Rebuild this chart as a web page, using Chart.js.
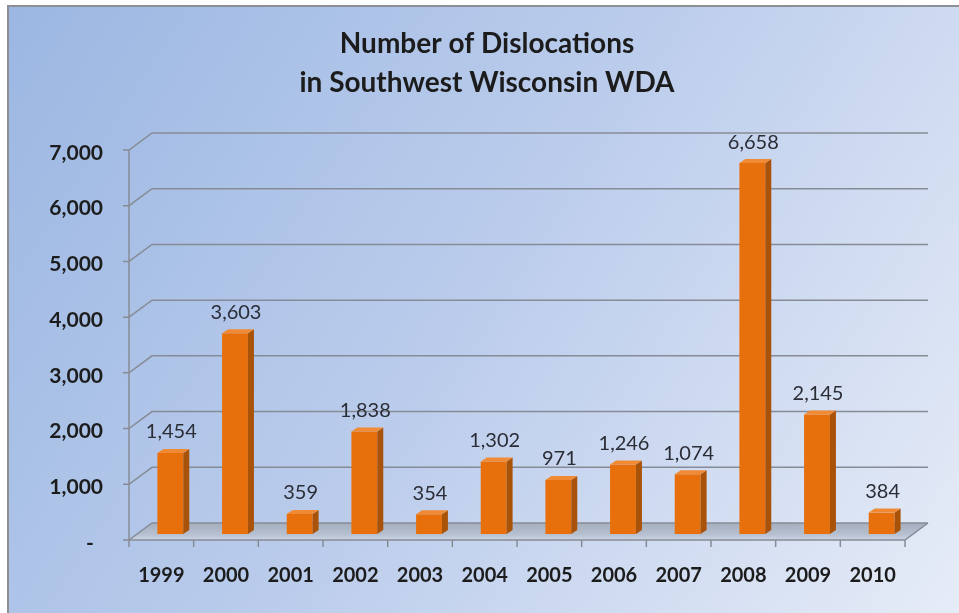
<!DOCTYPE html>
<html lang="en">
<head>
  <meta charset="UTF-8">
  <title>Number of Dislocations</title>
  <script src="https://cdn.jsdelivr.net/npm/chart.js"></script>
  <style>
    html, body { margin: 0; padding: 0; background: #fff; }
    #wrap { width: 959px; height: 613px; }
  </style>
</head>
<body>
<div id="wrap"><canvas id="myChart"></canvas></div>

<script>
// data
const titleLines = ['Number of Dislocations', 'in Southwest Wisconsin WDA'];
const years = ['1999', '2000', '2001', '2002', '2003', '2004', '2005', '2006', '2007', '2008', '2009', '2010'];
const dislocations = [1454, 3603, 359, 1838, 354, 1302, 971, 1246, 1074, 6658, 2145, 384];
const yMax = 7000;
const yStep = 1000;

// 3d look
const DEPTH_X = 23, DEPTH_Y = 17;   // back wall offset
const BAR_X = 9, BAR_Y = -6;        // bars sit mid depth
const SIDE_X = 6, SIDE_Y = 4;       // bar side / top face

const fmt = v => v.toLocaleString('en-US');

const backdrop = {
  id: 'backdrop',
  beforeDraw(chart) {
    const { ctx, chartArea: a, scales: { x, y } } = chart;
    ctx.save();
    ctx.fillStyle = '#fff';
    ctx.fillRect(0, 0, chart.width, chart.height);
    const g = ctx.createLinearGradient(8, 6, chart.width, chart.height);
    g.addColorStop(0, '#9bb7e2');
    g.addColorStop(0.5, '#bccdec');
    g.addColorStop(1, '#e6ecf7');
    ctx.fillStyle = g;
    ctx.fillRect(8, 6, chart.width - 8, chart.height - 6);
    // border top + left
    ctx.strokeStyle = '#8c8f94';
    ctx.lineWidth = 2;
    ctx.beginPath();
    ctx.moveTo(8, chart.height);
    ctx.lineTo(8, 6);
    ctx.lineTo(chart.width, 6);
    ctx.stroke();

    // title
    ctx.fillStyle = '#1c1c1c';
    ctx.font = 'bold 28px Lato';
    ctx.textAlign = 'center';
    ctx.textBaseline = 'alphabetic';
    ctx.fillText(titleLines[0], 487, 53);
    ctx.fillText(titleLines[1], 487, 92);

    // floor
    const fl = ctx.createLinearGradient(0, a.bottom - DEPTH_Y, 0, a.bottom);
    fl.addColorStop(0, '#a4aebd');
    fl.addColorStop(0.7, '#b7c1d1');
    fl.addColorStop(1, '#cdd6e6');
    ctx.fillStyle = fl;
    ctx.beginPath();
    ctx.moveTo(a.left, a.bottom);
    ctx.lineTo(a.right, a.bottom);
    ctx.lineTo(a.right + DEPTH_X, a.bottom - DEPTH_Y);
    ctx.lineTo(a.left + DEPTH_X, a.bottom - DEPTH_Y);
    ctx.closePath();
    ctx.fill();

    // back grid lines + diagonals
    ctx.strokeStyle = '#868c96';
    ctx.lineWidth = 1.5;
    for (let v = 0; v <= yMax; v += yStep) {
      const py = y.getPixelForValue(v);
      ctx.beginPath();
      ctx.moveTo(a.left - 6, py);
      ctx.lineTo(a.left, py);
      ctx.lineTo(a.left + DEPTH_X, py - DEPTH_Y);
      ctx.lineTo(a.right + DEPTH_X, py - DEPTH_Y);
      ctx.stroke();
    }
    // front axes
    ctx.beginPath();
    ctx.moveTo(a.left, y.getPixelForValue(yMax));
    ctx.lineTo(a.left, a.bottom);
    ctx.lineTo(a.right, a.bottom);
    ctx.lineTo(a.right + DEPTH_X, a.bottom - DEPTH_Y);
    ctx.stroke();
    // category tick marks
    const half = (x.getPixelForValue(1) - x.getPixelForValue(0)) / 2;
    for (let i = 0; i <= years.length; i++) {
      const px = x.getPixelForValue(0) - half + i * half * 2;
      ctx.beginPath();
      ctx.moveTo(px, a.bottom);
      ctx.lineTo(px, a.bottom + 7);
      ctx.stroke();
    }

    // y tick labels, accounting style dash for zero
    ctx.fillStyle = '#1c1c1c';
    ctx.font = 'bold 21px Lato';
    ctx.textBaseline = 'middle';
    y.ticks.forEach(t => {
      const py = y.getPixelForValue(t.value) + 3;
      if (t.value === 0) {
        ctx.textAlign = 'center';
        ctx.fillText('-', 90, py);
      } else {
        ctx.textAlign = 'right';
        ctx.fillText(fmt(t.value), 103, py);
      }
    });
    ctx.restore();
  },
  beforeDatasetsDraw(chart) {
    chart.ctx.save();
    chart.ctx.translate(BAR_X, BAR_Y);
  },
  afterDatasetsDraw(chart) {
    const { ctx } = chart;
    const meta = chart.getDatasetMeta(0);
    meta.data.forEach((bar, i) => {
      const l = bar.x - bar.width / 2, r = bar.x + bar.width / 2;
      // side
      ctx.fillStyle = '#a9520a';
      ctx.beginPath();
      ctx.moveTo(r, bar.y);
      ctx.lineTo(r + SIDE_X, bar.y - SIDE_Y);
      ctx.lineTo(r + SIDE_X, bar.base - SIDE_Y);
      ctx.lineTo(r, bar.base);
      ctx.closePath();
      ctx.fill();
      // top
      ctx.fillStyle = '#f08a34';
      ctx.beginPath();
      ctx.moveTo(l, bar.y);
      ctx.lineTo(r, bar.y);
      ctx.lineTo(r + SIDE_X, bar.y - SIDE_Y);
      ctx.lineTo(l + SIDE_X, bar.y - SIDE_Y);
      ctx.closePath();
      ctx.fill();
      // value label
      ctx.fillStyle = '#2b2d36';
      ctx.font = '20px Lato';
      ctx.textAlign = 'center';
      ctx.textBaseline = 'middle';
      ctx.fillText(fmt(dislocations[i]), bar.x + 1, bar.y - SIDE_Y - 17);
    });
    ctx.restore();
  }
};

const ctx = document.getElementById('myChart').getContext('2d');
new Chart(ctx, {
  type: 'bar',
  data: {
    labels: years,
    datasets: [{
      label: 'Dislocations',
      data: dislocations,
      backgroundColor: '#e8700c',
      borderWidth: 0,
      barPercentage: 0.4,
      categoryPercentage: 1
    }]
  },
  options: {
    responsive: true,
    maintainAspectRatio: false,
    animation: false,
    layout: { padding: { left: 8, right: 54, top: 150, bottom: 0 } },
    plugins: {
      legend: { display: false },
      tooltip: { enabled: false },
      title: { display: false }
    },
    scales: {
      x: {
        grid: { display: false },
        border: { display: false },
        ticks: {
          color: '#1c1c1c',
          font: { family: 'Lato', size: 20, weight: 'bold' },
          padding: 16,
          maxRotation: 0
        },
        afterFit: s => { s.height = 73; }
      },
      y: {
        min: 0,
        max: yMax,
        grid: { display: false },
        border: { display: false },
        ticks: { display: false, stepSize: yStep },
        afterFit: s => { s.width = 121; }
      }
    }
  },
  plugins: [backdrop]
});
</script>
</body>
</html>
